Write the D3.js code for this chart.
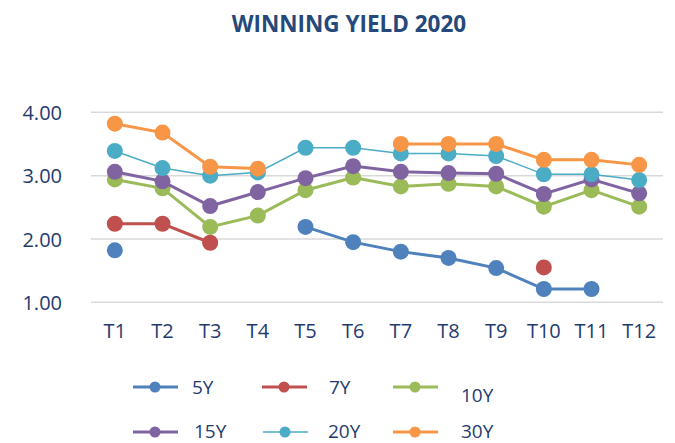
<!DOCTYPE html>
<html>
<head>
<meta charset="utf-8">
<script src="https://cdn.jsdelivr.net/npm/d3@7"></script>
<style>
  body { margin: 0; background: #fff; }
  svg { display: block; }
</style>
</head>
<body>
<div id="chart"></div>
<script>
const periods = ["T1", "T2", "T3", "T4", "T5", "T6", "T7", "T8", "T9", "T10", "T11", "T12"];
const yTicks = [1, 2, 3, 4];

// null = no auction in that period
const y5 = [1.82, null, null, null, 2.19, 1.95, 1.80, 1.70, 1.54, 1.21, 1.21, null];
const y7 = [2.24, 2.24, 1.94, null, null, null, null, null, null, 1.55, null, null];
const y10 = [2.94, 2.80, 2.19, 2.37, 2.77, 2.97, 2.83, 2.87, 2.83, 2.51, 2.77, 2.51];
const y15 = [3.06, 2.91, 2.52, 2.74, 2.96, 3.15, 3.06, 3.04, 3.03, 2.71, 2.94, 2.72];
const y20 = [3.39, 3.12, 3.00, 3.05, 3.44, 3.44, 3.35, 3.35, 3.31, 3.02, 3.02, 2.93];
const y30 = [3.82, 3.68, 3.14, 3.11, null, null, 3.50, 3.50, 3.50, 3.25, 3.25, 3.17];

const series = [
    { name: "5Y", values: y5, color: "#4F81BD", width: 3 },
    { name: "7Y", values: y7, color: "#C0504D", width: 3 },
    { name: "10Y", values: y10, color: "#9BBB59", width: 3 },
    { name: "15Y", values: y15, color: "#8064A2", width: 3 },
    { name: "20Y", values: y20, color: "#4BACC6", width: 1.5 },
    { name: "30Y", values: y30, color: "#F79646", width: 3 }
];

const width = 675;
const height = 443;
const textColor = "#1F3B6E";
const font = "'Open Sans', sans-serif";

const svg = d3.select("#chart")
    .append("svg")
    .attr("width", width)
    .attr("height", height)
    .style("font-family", font);

svg.append("text")
    .attr("x", 349)
    .attr("y", 32)
    .attr("text-anchor", "middle")
    .attr("fill", "#24497A")
    .style("font-size", "22.5px")
    .style("font-weight", "bold")
    .text("WINNING YIELD 2020");

const x = d3.scaleBand()
    .domain(periods)
    .range([91, 663]);

const y = d3.scaleLinear()
    .domain([1, 4])
    .range([302.3, 112.3]);

// gridlines
svg.append("g")
    .selectAll("line")
    .data(yTicks)
    .join("line")
    .attr("x1", 91)
    .attr("x2", 663)
    .attr("y1", d => y(d))
    .attr("y2", d => y(d))
    .attr("stroke", "#D9D9D9")
    .attr("stroke-width", 1.5);

const yAxis = svg.append("g")
    .attr("transform", "translate(62,0)")
    .call(d3.axisLeft(y).tickValues(yTicks).tickFormat(d3.format(".2f")).tickSize(0).tickPadding(0));
yAxis.select(".domain").remove();
yAxis.selectAll("text")
    .attr("fill", textColor)
    .attr("dy", "0.36em")
    .style("font-family", font)
    .style("font-size", "20px");

const xAxis = svg.append("g")
    .attr("transform", "translate(0,324)")
    .call(d3.axisBottom(x).tickSize(0).tickPadding(0));
xAxis.select(".domain").remove();
xAxis.selectAll("text")
    .attr("fill", textColor)
    .attr("dy", "0.71em")
    .style("font-family", font)
    .style("font-size", "20px");

const cx = d => x(d) + x.bandwidth() / 2;

const line = d3.line()
    .defined(d => d.v != null)
    .x(d => cx(d.p))
    .y(d => y(d.v));

series.forEach(s => {
    const pts = s.values.map((v, i) => ({ p: periods[i], v }));
    const g = svg.append("g");
    g.append("path")
        .datum(pts)
        .attr("fill", "none")
        .attr("stroke", s.color)
        .attr("stroke-width", s.width)
        .attr("d", line);
    g.selectAll("circle")
        .data(pts.filter(d => d.v != null))
        .join("circle")
        .attr("cx", d => cx(d.p))
        .attr("cy", d => y(d.v))
        .attr("r", 8)
        .attr("fill", s.color);
});

// legend
const legendPos = [
    { x: 133, y: 387, tx: 192, ty: 387 },
    { x: 262, y: 387, tx: 329, ty: 387 },
    { x: 393, y: 387, tx: 461, ty: 395 },
    { x: 133, y: 432, tx: 194, ty: 431 },
    { x: 263, y: 432, tx: 328, ty: 431 },
    { x: 393, y: 432, tx: 461, ty: 431 }
];

const legend = svg.selectAll(".legend")
    .data(series)
    .join("g")
    .attr("class", "legend");

legend.append("line")
    .attr("x1", (d, i) => legendPos[i].x)
    .attr("x2", (d, i) => legendPos[i].x + 45)
    .attr("y1", (d, i) => legendPos[i].y)
    .attr("y2", (d, i) => legendPos[i].y)
    .attr("stroke", d => d.color)
    .attr("stroke-width", d => d.width);

legend.append("circle")
    .attr("cx", (d, i) => legendPos[i].x + 22)
    .attr("cy", (d, i) => legendPos[i].y)
    .attr("r", 5.5)
    .attr("fill", d => d.color);

legend.append("text")
    .attr("x", (d, i) => legendPos[i].tx)
    .attr("y", (d, i) => legendPos[i].ty)
    .attr("dy", "0.36em")
    .attr("fill", textColor)
    .style("font-size", "19px")
    .text(d => d.name);
</script>
</body>
</html>
